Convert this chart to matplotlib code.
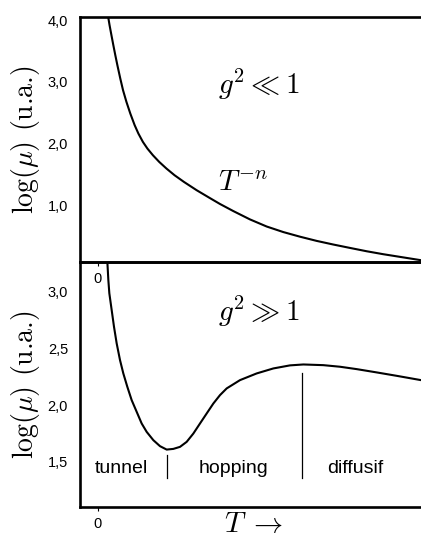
import matplotlib
matplotlib.use("Agg")
import matplotlib.pyplot as plt

plt.rcParams['mathtext.fontset'] = 'cm'
plt.rcParams['font.family'] = ['Liberation Sans', 'DejaVu Sans']

# Weak coupling: mobility falls as a power law T^-n
weak_T = [0.0320, 0.0358, 0.0416, 0.0475, 0.0536, 0.0600, 0.0690, 0.0775,
          0.0880, 0.1000, 0.1135, 0.1250, 0.1390, 0.1530, 0.1700, 0.1895,
          0.2120, 0.2370, 0.2660, 0.3055, 0.3467, 0.3777, 0.4190, 0.4706,
          0.5222, 0.5738, 0.6254, 0.6770, 0.7286, 0.7802, 0.8318, 0.8834,
          0.9350, 1.0]
weak_logmu = [4.036, 3.917, 3.755, 3.593, 3.431, 3.269, 3.053, 2.864,
              2.675, 2.486, 2.297, 2.162, 2.026, 1.918, 1.810, 1.702,
              1.594, 1.486, 1.378, 1.243, 1.115, 1.020, 0.905, 0.770,
              0.655, 0.565, 0.490, 0.422, 0.363, 0.308, 0.254, 0.206,
              0.163, 0.109]

# Strong coupling: tunnel -> hopping -> diffusive regimes
strong_T = [0.0289, 0.0320, 0.0351, 0.0423, 0.0495, 0.0578, 0.0681, 0.0784,
            0.0908, 0.1042, 0.1197, 0.1352, 0.1507, 0.1713, 0.1920, 0.2126,
            0.2332, 0.2539, 0.2745, 0.2951, 0.3158, 0.3364, 0.3571, 0.3777,
            0.3984, 0.4396, 0.4912, 0.5428, 0.5944, 0.6357, 0.6976, 0.7492,
            0.8009, 0.8628, 0.9247, 1.0]
strong_logmu = [3.266, 3.104, 2.986, 2.839, 2.692, 2.545, 2.398, 2.280,
                2.162, 2.045, 1.942, 1.839, 1.765, 1.692, 1.639, 1.609,
                1.615, 1.633, 1.677, 1.750, 1.839, 1.927, 2.015, 2.089,
                2.148, 2.221, 2.280, 2.324, 2.351, 2.359, 2.353, 2.339,
                2.318, 2.289, 2.259, 2.221]

weak_yticks = [1.0, 2.0, 3.0, 4.0]
weak_ylabels = ['1,0', '2,0', '3,0', '4,0']
strong_yticks = [1.5, 2.0, 2.5, 3.0]
strong_ylabels = ['1,5', '2,0', '2,5', '3,0']

regimes = ['tunnel', 'hopping', 'diffusif']
regime_x = [0.071, 0.418, 0.796]
boundary_x = [0.214, 0.631]
boundary_top = [1.56, 2.28]
boundary_bottom = 1.36

W, H = 421, 537
fig = plt.figure(figsize=(W / 100, H / 100), dpi=100)

left = 80 / W
width = (421 - 80) / W
ax1 = fig.add_axes([left, 1 - 262 / H, width, (262 - 17) / H])
ax2 = fig.add_axes([left, 1 - 507 / H, width, (507 - 262) / H])
ax1.set_zorder(2)
ax1.patch.set_alpha(0)

xlim = (-18 / 323, 1.0)
spine_lw = 1.9
curve_lw = 1.5

for ax in (ax1, ax2):
    ax.set_xlim(*xlim)
    ax.spines['right'].set_visible(False)
    for s in ('left', 'top', 'bottom'):
        ax.spines[s].set_linewidth(spine_lw)
    ax.tick_params(axis='y', length=0, pad=8.6, labelsize=10.5)
    ax.tick_params(axis='x', direction='out', length=3, width=0.8,
                   pad=4.0, labelsize=10.5)
    ax.set_xticks([0])
    ax.set_xticklabels(['0'])

ax1.set_ylim(0.08, 4.05)
ax1.set_yticks(weak_yticks)
ax1.set_yticklabels(weak_ylabels)
ax1.plot(weak_T, weak_logmu, color='black', lw=curve_lw,
         solid_joinstyle='round', solid_capstyle='round')
ax1.text(0.372, 2.96, r'$g^2 \ll 1$', fontsize=21, ha='left', va='center')
ax1.text(0.372, 1.36, r'$T^{-n}$', fontsize=21, ha='left', va='center')

ax2.set_ylim(1.103, 3.262)
ax2.set_yticks(strong_yticks)
ax2.set_yticklabels(strong_ylabels)
ax2.plot(strong_T, strong_logmu, color='black', lw=curve_lw,
         solid_joinstyle='round', solid_capstyle='round')
ax2.text(0.372, 2.83, r'$g^2 \gg 1$', fontsize=21, ha='left', va='center')
for bx, bt in zip(boundary_x, boundary_top):
    ax2.plot([bx, bx], [boundary_bottom, bt], color='black', lw=0.9)
for name, rx in zip(regimes, regime_x):
    ax2.text(rx, 1.40, name, fontsize=14, ha='center', va='baseline')

ylabel = r'$\log(\mu)$ (u.a.)'
for yc in (139.5, 384.5):
    fig.text(25 / W, 1 - yc / H, ylabel, fontsize=20, rotation=90,
             ha='center', va='center', family=['cmr10'])
fig.text(253 / W, 1 - 524 / H, r'$T\;\rightarrow$', fontsize=21,
         ha='center', va='center')

fig.savefig('out.png', dpi=100)
